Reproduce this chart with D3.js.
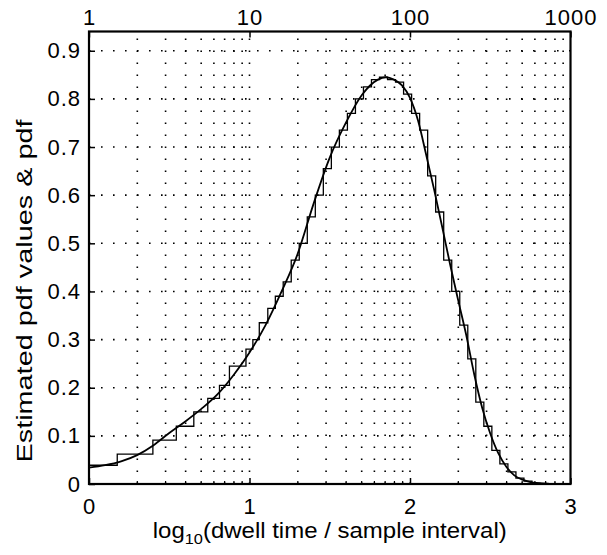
<!DOCTYPE html>
<html>
<head>
<meta charset="utf-8">
<script src="https://cdn.jsdelivr.net/npm/d3@7"></script>
<style>
body { margin: 0; background: #fff; }
text { font-family: "Liberation Sans", Arial, Helvetica, sans-serif; fill: #000; }
</style>
</head>
<body>
<div id="chart"></div>
<script>
// histogram: bin edges on the log10 axis and the estimated pdf value in each bin
var binEdges = [0, 0.176, 0.398, 0.544, 0.653, 0.740, 0.813, 0.875, 0.978, 1.021, 1.061, 1.114,
  1.161, 1.210, 1.260, 1.310, 1.360, 1.410, 1.460, 1.510, 1.560, 1.610, 1.660, 1.710, 1.760,
  1.810, 1.860, 1.910, 1.960, 2.010, 2.060, 2.110, 2.160, 2.210, 2.260, 2.310, 2.360, 2.410,
  2.460, 2.510, 2.560, 2.610, 2.660, 2.710, 2.760, 2.810, 2.860];
var binValues = [0.039, 0.062, 0.091, 0.120, 0.150, 0.178, 0.205, 0.245, 0.280, 0.300, 0.335,
  0.365, 0.390, 0.420, 0.465, 0.500, 0.555, 0.600, 0.655, 0.700, 0.735, 0.770, 0.800, 0.825,
  0.840, 0.845, 0.840, 0.835, 0.810, 0.770, 0.735, 0.640, 0.565, 0.465, 0.400, 0.330, 0.260,
  0.170, 0.120, 0.070, 0.042, 0.025, 0.012, 0.006, 0.002, 0.001];

// fitted pdf curve
var pdfX = [0.00, 0.10, 0.20, 0.30, 0.40, 0.50, 0.60, 0.70, 0.80, 0.90, 1.00, 1.10, 1.20, 1.30,
  1.40, 1.50, 1.60, 1.70, 1.80, 1.85, 1.90, 1.95, 2.00, 2.05, 2.10, 2.15, 2.20, 2.25, 2.30,
  2.35, 2.40, 2.45, 2.50, 2.55, 2.60, 2.65, 2.70, 2.75, 2.80, 2.90, 3.00];
var pdfY = [0.034, 0.039, 0.047, 0.060, 0.080, 0.106, 0.130, 0.156, 0.186, 0.226, 0.273, 0.330,
  0.400, 0.478, 0.583, 0.678, 0.750, 0.808, 0.840, 0.845, 0.840, 0.828, 0.802, 0.755, 0.685,
  0.612, 0.535, 0.456, 0.382, 0.310, 0.228, 0.158, 0.105, 0.064, 0.036, 0.018, 0.009, 0.004,
  0.002, 0.000, 0.000];

var xTicks = [0, 1, 2, 3];
var yTicks = [0, 0.1, 0.2, 0.3, 0.4, 0.5, 0.6, 0.7, 0.8, 0.9];
var topTicks = [1, 10, 100, 1000];
var minorTicks = [2, 3, 4, 5, 6, 7, 8, 9, 20, 30, 40, 50, 60, 70, 80, 90,
  200, 300, 400, 500, 600, 700, 800, 900];

var width = 607, height = 555;
var margin = {top: 31.5, right: 36.5, bottom: 71, left: 89};
var w = width - margin.left - margin.right;
var h = height - margin.top - margin.bottom;

var svg = d3.select("#chart").append("svg")
    .attr("width", width)
    .attr("height", height);

var g = svg.append("g")
    .attr("transform", "translate(" + margin.left + "," + margin.top + ")");

var x = d3.scaleLinear().domain([0, 3]).range([0, w]);
var xTop = d3.scaleLog().domain([1, 1000]).range([0, w]);
var y = d3.scaleLinear().domain([0, 0.94]).range([h, 0]);

// dotted grid
var grid = g.append("g").attr("class", "grid")
    .style("stroke", "#000")
    .style("stroke-width", 1.6)
    .style("stroke-dasharray", "1.6,10.4");

grid.selectAll(".vgrid")
    .data(minorTicks.concat([10, 100]))
    .enter().append("line")
    .attr("x1", function(d){ return xTop(d); })
    .attr("x2", function(d){ return xTop(d); })
    .attr("y1", h)
    .attr("y2", 0);

grid.selectAll(".hgrid")
    .data(yTicks.slice(1))
    .enter().append("line")
    .attr("x1", 0)
    .attr("x2", w)
    .attr("y1", function(d){ return y(d); })
    .attr("y2", function(d){ return y(d); });

// histogram as stairs
var stairs = binValues.map(function(v, i){ return {x: binEdges[i], y: v}; });
stairs.push({x: binEdges[binEdges.length - 1], y: 0});

var stairLine = d3.line()
    .x(function(d){ return x(d.x); })
    .y(function(d){ return y(d.y); })
    .curve(d3.curveStepAfter);

g.append("path")
    .datum(stairs)
    .attr("d", stairLine)
    .style("fill", "none")
    .style("stroke", "#000")
    .style("stroke-width", 1.3);

// pdf curve
var pdf = pdfX.map(function(d, i){ return {x: d, y: pdfY[i]}; });
var pdfLine = d3.line()
    .x(function(d){ return x(d.x); })
    .y(function(d){ return y(d.y); })
    .curve(d3.curveMonotoneX);

g.append("path")
    .datum(pdf)
    .attr("d", pdfLine)
    .style("fill", "none")
    .style("stroke", "#000")
    .style("stroke-width", 1.8);

// axes
var xAxis = d3.axisBottom(x).tickValues(xTicks).tickFormat(d3.format("d"))
    .tickSize(-6).tickPadding(14);
var yAxis = d3.axisLeft(y).tickValues(yTicks)
    .tickFormat(function(d){ return d === 0 ? "0" : d3.format(".1f")(d); })
    .tickSize(-6).tickPadding(8);
var topAxis = d3.axisTop(xTop).tickValues(topTicks).tickFormat(d3.format("d"))
    .tickSize(-6).tickPadding(7);

var xg = g.append("g").attr("transform", "translate(0," + h + ")").call(xAxis);
var yg = g.append("g").call(yAxis);
var tg = g.append("g").call(topAxis);

[xg, yg, tg].forEach(function(a){
  a.select(".domain").remove();
  a.selectAll("line").style("stroke", "#000").style("stroke-width", 1.5);
  a.selectAll("text").style("font-size", "22px").style("letter-spacing", "1px");
});

// minor log ticks along the bottom edge
g.selectAll(".minor")
    .data(minorTicks)
    .enter().append("line")
    .attr("x1", function(d){ return xTop(d); })
    .attr("x2", function(d){ return xTop(d); })
    .attr("y1", h)
    .attr("y2", h - 3)
    .style("stroke", "#000")
    .style("stroke-width", 1.2);

// frame
g.append("rect")
    .attr("width", w)
    .attr("height", h)
    .style("fill", "none")
    .style("stroke", "#000")
    .style("stroke-width", 2.2);

// axis titles
var xt = svg.append("text")
    .attr("x", margin.left + w / 2)
    .attr("y", 538)
    .attr("text-anchor", "middle")
    .attr("textLength", 354)
    .attr("lengthAdjust", "spacingAndGlyphs")
    .style("font-size", "22px");
xt.append("tspan").text("log");
xt.append("tspan").text("10").attr("dy", 6).style("font-size", "15px");
xt.append("tspan").text("(dwell time / sample interval)").attr("dy", -6);

svg.append("text")
    .attr("transform", "translate(32,291) rotate(-90)")
    .attr("text-anchor", "middle")
    .attr("textLength", 343)
    .attr("lengthAdjust", "spacingAndGlyphs")
    .style("font-size", "22px")
    .text("Estimated pdf values & pdf");
</script>
</body>
</html>
